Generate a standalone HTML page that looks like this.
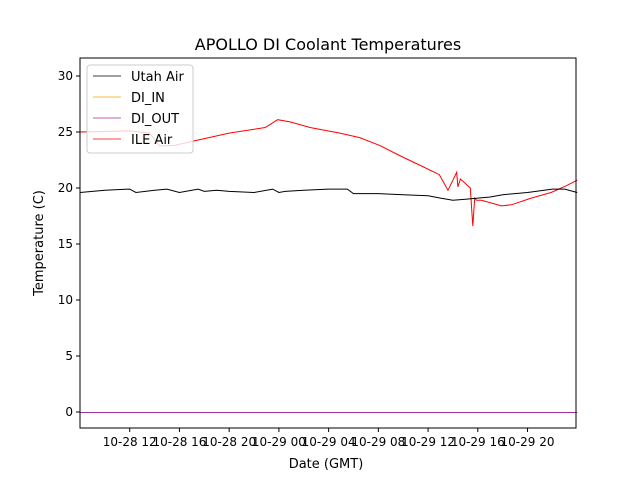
<!DOCTYPE html>
<html><head><meta charset="utf-8"><style>
body{margin:0;background:#fff;font-family:"Liberation Sans","DejaVu Sans",sans-serif}
svg text{font-family:"DejaVu Sans","Liberation Sans",sans-serif}
</style></head><body>
<svg id="chart" width="640" height="480" xmlns="http://www.w3.org/2000/svg">
<rect width="640" height="480" fill="#fff"/>
<text x="328" y="50" text-anchor="middle" font-size="16">APOLLO DI Coolant Temperatures</text>
<g id="plot"></g>
<text x="326" y="468" text-anchor="middle" font-size="13">Date (GMT)</text>
<text transform="translate(43,243) rotate(-90)" text-anchor="middle" font-size="13">Temperature (C)</text>
</svg>
<script>
const xTickHours=[4,8,12,16,20,24,28,32,36];
const xTickLabels=["10-28 12","10-28 16","10-28 20","10-29 00","10-29 04","10-29 08","10-29 12","10-29 16","10-29 20"];
const yTicks=[0,5,10,15,20,25,30];
const iceHours=[0,4,5.6,6.4,7.6,9.6,12,14.9,15.9,16.9,18.5,20.9,22.5,24.1,25.7,27.3,28.9,29.6,30,30.3,30.4,30.6,31.4,31.6,31.75,31.9,32.3,33.9,34.7,36.3,37.9,39.1,40];
const iceVals=[25.0,25.1,24.9,23.75,23.8,24.3,24.9,25.4,26.1,25.9,25.4,24.9,24.5,23.8,22.9,22.05,21.2,19.8,20.7,21.4,20.1,20.8,20.0,16.6,19.1,18.9,18.9,18.4,18.5,19.1,19.6,20.2,20.7];
const utahHours=[0,2,4,4.5,6,7,8,9.5,10,11,12,14,15.5,16,16.5,18,20,21.5,22,24,26,28,29,30,31,32,33,34,36,38,39,40];
const utahVals=[19.6,19.8,19.9,19.6,19.8,19.9,19.6,19.9,19.7,19.8,19.7,19.6,19.9,19.6,19.7,19.8,19.9,19.9,19.5,19.5,19.4,19.3,19.1,18.9,19.0,19.1,19.2,19.4,19.6,19.9,19.9,19.6];
const diInHours=[0,40];const diInVals=[0,0];
const diOutHours=[0,40];const diOutVals=[0,0];

const L=80,R=576,T=58,B=428;
const x=h=>L+h*(R-L)/39.9;
const y=v=>412-v*11.2;
const NS="http://www.w3.org/2000/svg";
const g=document.getElementById('plot');
function mk(t,a){const e=document.createElementNS(NS,t);for(const k in a)e.setAttribute(k,a[k]);g.appendChild(e);return e;}
function line(hs,vs,color,name,w,off){
  const d=hs.map((h,i)=>(i?'L':'M')+x(h).toFixed(1)+','+(y(vs[i])+off).toFixed(1)).join('');
  const p=mk('path',{d:d,fill:'none',stroke:color,'stroke-width':w});
  
  
}
line(diInHours,diInVals,'#ffa500','di-in-line',1,0.5);
line(diOutHours,diOutVals,'#a0309a','di-out-line',1,0.5);
line(iceHours,iceVals,'#ff0000','ile-air-line',1,0);
line(utahHours,utahVals,'#000000','utah-air-line',1,0);
const fr=mk('rect',{x:L,y:T,width:R-L,height:B-T,fill:'none',stroke:'#000','stroke-width':1});


xTickHours.forEach((h,i)=>{
  mk('line',{x1:x(h),x2:x(h),y1:B,y2:B+4,stroke:'#000'});
  const t=mk('text',{x:x(h),y:B+18,'text-anchor':'middle','font-size':'12'});
  t.textContent=xTickLabels[i];
  
  
});
yTicks.forEach(v=>{
  mk('line',{x1:L-4,x2:L,y1:y(v),y2:y(v),stroke:'#000'});
  const t=mk('text',{x:L-7,y:y(v)+4,'text-anchor':'end','font-size':'12'});
  t.textContent=v;
  
  
});
const lg=mk('rect',{x:87,y:65,width:106,height:88,rx:3,fill:'#fff','fill-opacity':0.8,stroke:'#ccc'});


[["Utah Air","#000"],["DI_IN","#ffa500"],["DI_OUT","#a0309a"],["ILE Air","#ff0000"]].forEach((e,i)=>{
  const yy=76+i*21;
  mk('line',{x1:93,x2:121,y1:yy,y2:yy,stroke:e[1],'stroke-width':0.8});
  const t=mk('text',{x:131,y:yy+5,'font-size':'13'});
  t.textContent=e[0];
  
  
});
</script>
</body></html>
